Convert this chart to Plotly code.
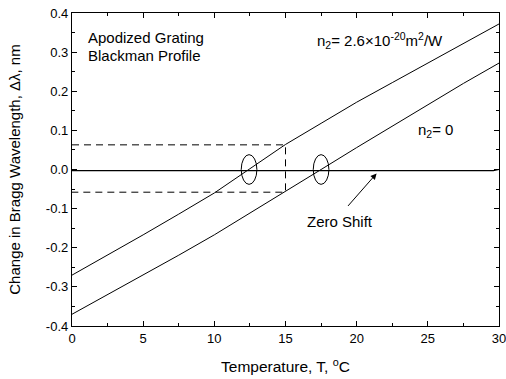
import plotly.graph_objects as go

# Data
temperature = [0, 2.5, 5, 7.5, 10, 12.5, 15, 17.5, 20, 22.5, 25, 27.5, 30]
shift_kerr = [-0.270, -0.219, -0.167, -0.114, -0.060, 0.002, 0.064, 0.118, 0.172, 0.222, 0.272, 0.322, 0.372]
shift_linear = [-0.370, -0.320, -0.270, -0.219, -0.167, -0.112, -0.055, 0.0, 0.056, 0.111, 0.167, 0.220, 0.272]
zero_T = [0, 29.6, 30]
zero_shift = [-0.003, -0.003, 0.0]

guide_T = [0, 15, 15, 0]
guide_shift = [0.063, 0.063, -0.058, -0.058]

x_ticks = [0, 5, 10, 15, 20, 25, 30]
y_ticks = [-0.4, -0.3, -0.2, -0.1, 0.0, 0.1, 0.2, 0.3, 0.4]
y_labels = ["-0.4", "-0.3", "-0.2", "-0.1", "0.0", "0.1", "0.2", "0.3", "0.4"]

ellipse_centers_T = [12.44, 17.5]
ellipse_half_w = 0.55
ellipse_half_h = 0.038

FONT = "Liberation Sans, Arial, sans-serif"

fig = go.Figure()
fig.add_trace(go.Scatter(x=guide_T, y=guide_shift, mode="lines",
                         line=dict(color="black", width=1, dash="7px,5px"), hoverinfo="skip"))
fig.add_trace(go.Scatter(x=zero_T, y=zero_shift, mode="lines",
                         line=dict(color="black", width=1.2)))
fig.add_trace(go.Scatter(x=temperature, y=shift_kerr, mode="lines",
                         line=dict(color="black", width=1)))
fig.add_trace(go.Scatter(x=temperature, y=shift_linear, mode="lines",
                         line=dict(color="black", width=1)))

for cx in ellipse_centers_T:
    fig.add_shape(type="circle", xref="x", yref="y",
                  x0=cx - ellipse_half_w, x1=cx + ellipse_half_w,
                  y0=-ellipse_half_h, y1=ellipse_half_h,
                  line=dict(color="black", width=1))

txt = dict(family=FONT, size=15, color="black")
fig.add_annotation(x=1.0, y=0.338, text="Apodized Grating", showarrow=False,
                   xanchor="left", font=txt)
fig.add_annotation(x=1.0, y=0.292, text="Blackman Profile", showarrow=False,
                   xanchor="left", font=txt)
fig.add_annotation(x=17.1, y=0.33,
                   text="n<sub>2</sub>= 2.6×10<sup>-20</sup>m<sup>2</sup>/W",
                   showarrow=False, xanchor="left", font=txt)
fig.add_annotation(x=24.2, y=0.10, text="n<sub>2</sub>= 0", showarrow=False,
                   xanchor="left", font=txt)
fig.add_annotation(x=18.8, y=-0.134, text="Zero Shift", showarrow=False,
                   xanchor="center", font=txt)
fig.add_annotation(x=21.4, y=-0.01, ax=19.3, ay=-0.097, axref="x", ayref="y",
                   xref="x", yref="y", text="", showarrow=True,
                   arrowhead=2, arrowsize=1.2, arrowwidth=1, arrowcolor="black")

fig.update_xaxes(range=[0, 30], tickvals=x_ticks, ticks="inside", ticklen=5,
                 tickwidth=1, tickcolor="black", showline=True, linecolor="black",
                 linewidth=1.3, mirror="ticks", showgrid=False, zeroline=False,
                 ticklabeloverflow="allow", automargin=False,
                 minor=dict(ticks="inside", ticklen=3, dtick=2.5, tickcolor="black", showgrid=False),
                 tickfont=dict(family=FONT, size=13, color="black"),
                 title=dict(text="Temperature, T, <sup>o</sup>C",
                            font=dict(family=FONT, size=15.5, color="black"), standoff=16))
fig.update_yaxes(range=[-0.4, 0.4], tickvals=y_ticks, ticktext=y_labels, ticks="inside",
                 ticklen=5, tickwidth=1, tickcolor="black", showline=True, linecolor="black",
                 linewidth=1.3, mirror="ticks", showgrid=False, zeroline=False,
                 automargin=False,
                 minor=dict(ticks="inside", ticklen=3, dtick=0.05, tickcolor="black", showgrid=False),
                 tickfont=dict(family=FONT, size=13, color="black"),
                 title=dict(text="Change in Bragg Wavelength, Δλ, nm",
                            font=dict(family=FONT, size=15, color="black"), standoff=21))

fig.update_layout(width=506, height=379, showlegend=False,
                  margin=dict(l=72, r=7, t=13, b=53),
                  plot_bgcolor="white", paper_bgcolor="white")

fig.write_html("out.html")
